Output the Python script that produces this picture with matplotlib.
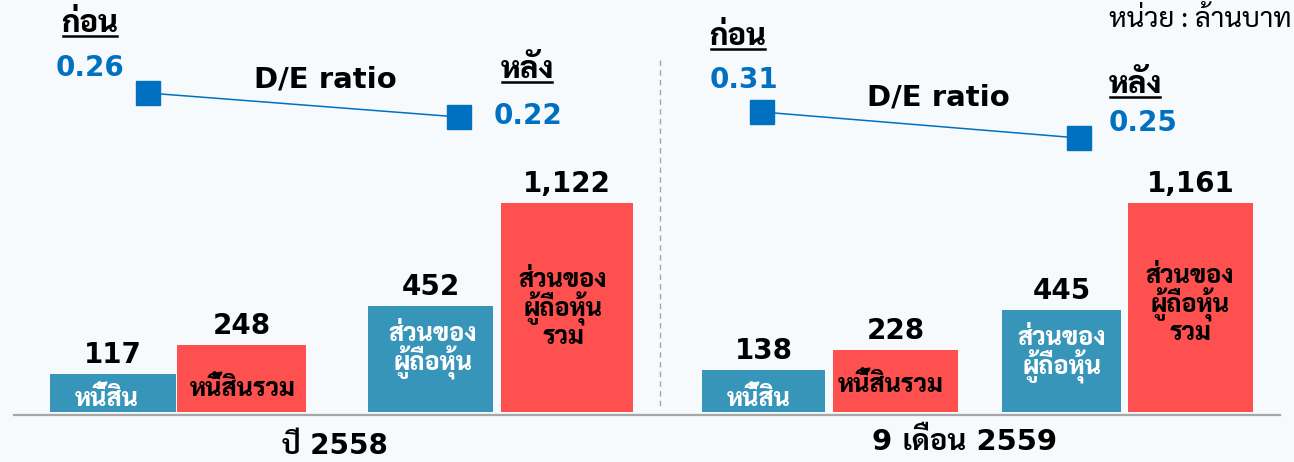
import matplotlib
matplotlib.use("Agg")
import numpy as np
import matplotlib.pyplot as plt

# data
panels = ["ปี 2558", "9 เดือน 2559"]
debt = [117, 138]
total_debt = [248, 228]
equity = [452, 445]
total_equity = [1122, 1161]
de_before = [0.26, 0.31]
de_after = [0.22, 0.25]
bar_labels = ["หนี้สิน", "หนี้สินรวม", "ส่วนของ\nผู้ถือหุ้น", "ส่วนของ\nผู้ถือหุ้น\nรวม"]
before_text = "ก่อน"
after_text = "หลัง"
ratio_title = "D/E ratio"
unit_text = "หน่วย : ล้านบาท"

BG = "#F6FAFD"
BLUE_BAR = "#3795BA"
RED_BAR = "#FF5050"
LINE_BLUE = "#0070C0"
GRID_GRAY = "#A6A6A6"

# latin glyphs from DejaVu, thai glyphs fall back to Sarabun
plt.rcParams["font.family"] = ["DejaVu Sans", "Sarabun", "Loma"]
plt.rcParams["font.weight"] = "bold"
THAI = ["Sarabun", "Loma", "DejaVu Sans"]

W, H = 1294, 462
fig = plt.figure(figsize=(W / 100, H / 100), dpi=100, facecolor=BG)


def fx(px):
    return px / W


def fy(py):
    return 1 - py / H


# overlay in pixel coords for free text, baseline and divider
ov = fig.add_axes([0, 0, 1, 1], facecolor="none")
ov.set_xlim(0, W)
ov.set_ylim(H, 0)
ov.axis("off")
ov.set_zorder(10)

# layout per panel (pixels)
bar_centers = [[113, 241.5, 430.5, 567], [763.5, 895.5, 1061.5, 1190.5]]
bar_widths = [[126, 129, 125, 132], [123, 125, 119, 125]]
bar_colors = [BLUE_BAR, RED_BAR, BLUE_BAR, RED_BAR]
inner_colors = ["white", "black", "white", "black"]
inner_pos = [[(107, 399), (243, 390), (433, 351), (563, 309)],
             [(759, 399), (891, 385), (1062, 355), (1190, 305)]]
baseline_y, top_y = 412, 203
line_ends = [((148, 93), (459, 117)), ((762, 112), (1079, 138))]
before_pos = [(90, 24), (738, 37)]
after_pos = [(527, 70), (1135, 85)]
before_val_pos = [(90, 68), (744, 80)]
after_val_pos = [(528, 116), (1143, 123)]
title_pos = [(325, 80), (938, 98)]
panel_label_pos = [(335, 446), (965, 442)]

power = 0.75


def fwd(v):
    return np.power(np.clip(v, 0, None), power)


def inv(v):
    return np.power(np.clip(v, 0, None), 1 / power)


underline_texts = []

for i in range(2):
    values = [debt[i], total_debt[i], equity[i], total_equity[i]]

    # bars
    axb = fig.add_axes([0, fy(baseline_y), 1, (baseline_y - top_y) / H], facecolor="none")
    axb.set_yscale("function", functions=(fwd, inv))
    axb.set_xlim(0, W)
    axb.set_ylim(0, max(values))
    axb.axis("off")
    axb.bar(bar_centers[i], values, width=bar_widths[i], color=bar_colors, edgecolor="none")
    for x, v in zip(bar_centers[i], values):
        axb.annotate(f"{v:,}", (x, v), xytext=(0, 8), textcoords="offset points",
                     ha="center", va="baseline", fontsize=20, color="black",
                     annotation_clip=False)
    for lab, (x, y), c in zip(bar_labels, inner_pos[i], inner_colors):
        ov.text(x, y, lab, ha="center", va="center", fontsize=18, color=c,
                fontweight=800, linespacing=0.95, multialignment="center", family=THAI)

    # D/E ratio line
    (x0, y0), (x1, y1) = line_ends[i]
    lo, hi = min(de_before[i], de_after[i]), max(de_before[i], de_after[i])
    axl = fig.add_axes([fx(x0), fy(y1), (x1 - x0) / W, (y1 - y0) / H], facecolor="none")
    axl.set_xlim(0, 1)
    axl.set_ylim(lo, hi)
    axl.axis("off")
    axl.plot([0, 1], [de_before[i], de_after[i]], color=LINE_BLUE, lw=1.1,
             marker="s", markersize=17, clip_on=False)

    ov.text(*before_val_pos[i], f"{de_before[i]:.2f}", ha="center", va="center",
            fontsize=20, color=LINE_BLUE)
    ov.text(*after_val_pos[i], f"{de_after[i]:.2f}", ha="center", va="center",
            fontsize=20, color=LINE_BLUE)
    ov.text(*title_pos[i], ratio_title, ha="center", va="center", fontsize=21, color="black")
    underline_texts.append(ov.text(*before_pos[i], before_text, ha="center", va="center",
                                   fontsize=22, fontweight=800, color="black", family=THAI))
    underline_texts.append(ov.text(*after_pos[i], after_text, ha="center", va="center",
                                   fontsize=22, fontweight=800, color="black", family=THAI))
    ov.text(*panel_label_pos[i], panels[i], ha="center", va="center",
            fontsize=20 if i == 0 else 21, color="black")

# baseline and divider
ov.plot([14, 1280], [415, 415], color=GRID_GRAY, lw=1.6)
ov.plot([660, 660], [60, 410], color=GRID_GRAY, lw=1.0, ls=(0, (4, 3)))

ov.text(1292, 20, unit_text, ha="right", va="center", fontsize=20, fontweight="normal",
        color="black", family=THAI)

# underline "before/after" labels
fig.canvas.draw()
renderer = fig.canvas.get_renderer()
inv_tr = ov.transData.inverted()
for t in underline_texts:
    bb = t.get_window_extent(renderer)
    (xa, ya), (xb, yb) = inv_tr.transform([(bb.x0, bb.y0), (bb.x1, bb.y1)])
    ov.plot([xa + 2, xb - 2], [ya - 3, ya - 3], color="black", lw=1.8)

plt.savefig("out.png", dpi=100, facecolor=BG)
